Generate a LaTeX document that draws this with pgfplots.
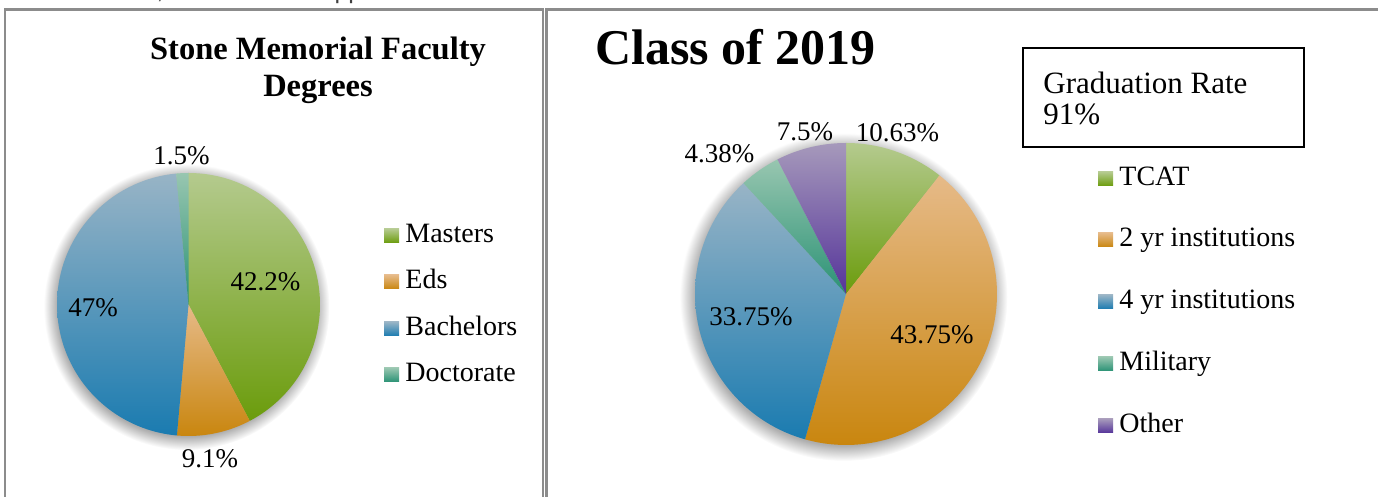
\documentclass[border=0pt]{standalone}
\usepackage{pgfplots}
\pgfplotsset{compat=1.18}
\usepackage{pgfplotstable}
\usepackage{fontspec}
\setmainfont{Liberation Serif}
\newfontfamily\sansfont{Liberation Sans}

\definecolor{top0}{HTML}{B4CA8E} \definecolor{bot0}{HTML}{6B9C0C}
\definecolor{top1}{HTML}{E6BA88} \definecolor{bot1}{HTML}{C9860F}
\definecolor{top2}{HTML}{98B4C6} \definecolor{bot2}{HTML}{1A7BB0}
\definecolor{top3}{HTML}{98C6B0} \definecolor{bot3}{HTML}{2A9275}
\definecolor{top4}{HTML}{A699BB} \definecolor{bot4}{HTML}{55349A}
\definecolor{panel}{HTML}{8C8C8C}

\pgfplotstableread[col sep=comma]{
label,pct
Masters,42.2
Eds,9.1
Bachelors,47
Doctorate,1.5
}\facultytable

\pgfplotstableread[col sep=comma]{
label,pct
TCAT,10.63
2 yr institutions,43.75
4 yr institutions,33.75
Military,4.38
Other,7.5
}\classtable

\pgfdeclareradialshading{halo}{\pgfpoint{0bp}{0bp}}{color(0bp)=(black!32); color(22.6bp)=(black!32); color(25bp)=(white); color(50bp)=(white)}

\newcommand\pieslices[1]{%
  \pgfplotstablegetrowsof{#1}%
  \pgfmathtruncatemacro\nrows{\pgfplotsretval-1}%
  \def\total{0}%
  \pgfplotsforeachungrouped \i in {0,...,\nrows}{%
    \pgfplotstablegetelem{\i}{pct}\of{#1}%
    \pgfmathsetmacro\total{\total+\pgfplotsretval}%
  }%
  \def\cum{0}%
  \pgfplotsforeachungrouped \i in {0,...,\nrows}{%
    \pgfplotstablegetelem{\i}{pct}\of{#1}%
    \let\p\pgfplotsretval
    \pgfmathsetmacro\angs{90-(\cum/\total)*360}%
    \pgfmathsetmacro\cum{\cum+\p}%
    \pgfmathsetmacro\ange{90-(\cum/\total)*360}%
    \edef\doslice{\noexpand\addplot[draw=none, top color=top\i, bottom color=bot\i, domain=\ange:\angs, samples=120, forget plot] ({cos(x)},{sin(x)}) -- (axis cs:0,0) -- cycle;}%
    \doslice
  }%
}

\newcommand\legsq[3]{% x, ycenter(px from top), index
  \shade[top color=top#3, bottom color=bot#3] (#1,497-#2+7) rectangle (#1+15,497-#2-7);
}

\begin{document}
\begin{tikzpicture}
\begin{scope}[x=0.5pt,y=0.5pt]
\useasboundingbox (0,0) rectangle (1378,497);
\clip (0,0) rectangle (1378,497);
\coordinate (lc) at (188.5,192.5);
\coordinate (rc) at (846,203);

% cut-off text at the very top
\node[anchor=base east, inner sep=0, font=\sansfont\fontsize{12.5}{14}\selectfont, text=black!75] at (392,498) {instruction, and student support};

% panel borders
\draw[panel, line width=1.4pt] (5,-20) -- (5,487.5) -- (543,487.5) -- (543,-20);
\draw[panel, line width=1.4pt] (546.5,-20) -- (546.5,487.5) -- (1400,487.5);

% ---------- left chart ----------
\node[anchor=base, inner sep=0, font=\bfseries\fontsize{16.25}{18}\selectfont] at (318,497-60) {Stone Memorial Faculty};
\node[anchor=base, inner sep=0, font=\bfseries\fontsize{16.25}{18}\selectfont] at (318,497-97) {Degrees};

\shade[shading=halo] (186.5,190) circle (143);

% ---------- right chart decorations ----------
\node[anchor=base west, inner sep=0, font=\bfseries\fontsize{25}{28}\selectfont] at (595,497-65) {Class of 2019};
\draw[line width=0.8pt] (1022.7,497-48.3) rectangle (1304,497-147);
\node[anchor=base west, inner sep=0, font=\fontsize{15.5}{17}\selectfont] at (1043,497-94) {Graduation Rate};
\node[anchor=base west, inner sep=0, font=\fontsize{15.5}{17}\selectfont] at (1043,497-125) {91\%};
\shade[shading=halo] (843.5,200) circle (164);
\end{scope}

\begin{axis}[at={(lc)}, anchor=center, scale only axis,
  width=131.5pt, height=131.5pt, xmin=-1, xmax=1, ymin=-1, ymax=1,
  hide axis, clip=false]
\pieslices{\facultytable}
\end{axis}

\begin{axis}[at={(rc)}, anchor=center, scale only axis,
  width=151pt, height=151pt, xmin=-1, xmax=1, ymin=-1, ymax=1,
  hide axis, clip=false]
\pieslices{\classtable}
\end{axis}

\begin{scope}[x=0.5pt,y=0.5pt]
\begin{scope}[font=\fontsize{13.5}{15}\selectfont]
\node at (181.5,497-156) {1.5\%};
\node at (265.5,497-282) {42.2\%};
\node at (93,497-308) {47\%};
\node at (210,497-459) {9.1\%};
\node at (897.5,497-132.5) {10.63\%};
\node at (805,497-132) {7.5\%};
\node at (719.5,497-154) {4.38\%};
\node at (751,497-317) {33.75\%};
\node at (932,497-335) {43.75\%};
\end{scope}

\begin{scope}[font=\fontsize{14}{16}\selectfont]
\legsq{384}{236}{0}\node[anchor=base west, inner sep=0] at (405,497-243) {Masters};
\legsq{384}{282}{1}\node[anchor=base west, inner sep=0] at (405,497-289) {Eds};
\legsq{384}{329}{2}\node[anchor=base west, inner sep=0] at (405,497-336) {Bachelors};
\legsq{384}{375}{3}\node[anchor=base west, inner sep=0] at (405,497-382) {Doctorate};

\legsq{1098}{179}{0}\node[anchor=base west, inner sep=0] at (1119,497-186) {TCAT};
\legsq{1098}{240}{1}\node[anchor=base west, inner sep=0] at (1119,497-247) {2 yr institutions};
\legsq{1098}{302}{2}\node[anchor=base west, inner sep=0] at (1119,497-309) {4 yr institutions};
\legsq{1098}{364}{3}\node[anchor=base west, inner sep=0] at (1119,497-371) {Military};
\legsq{1098}{426}{4}\node[anchor=base west, inner sep=0] at (1119,497-433) {Other};
\end{scope}
\end{scope}
\end{tikzpicture}
\end{document}
